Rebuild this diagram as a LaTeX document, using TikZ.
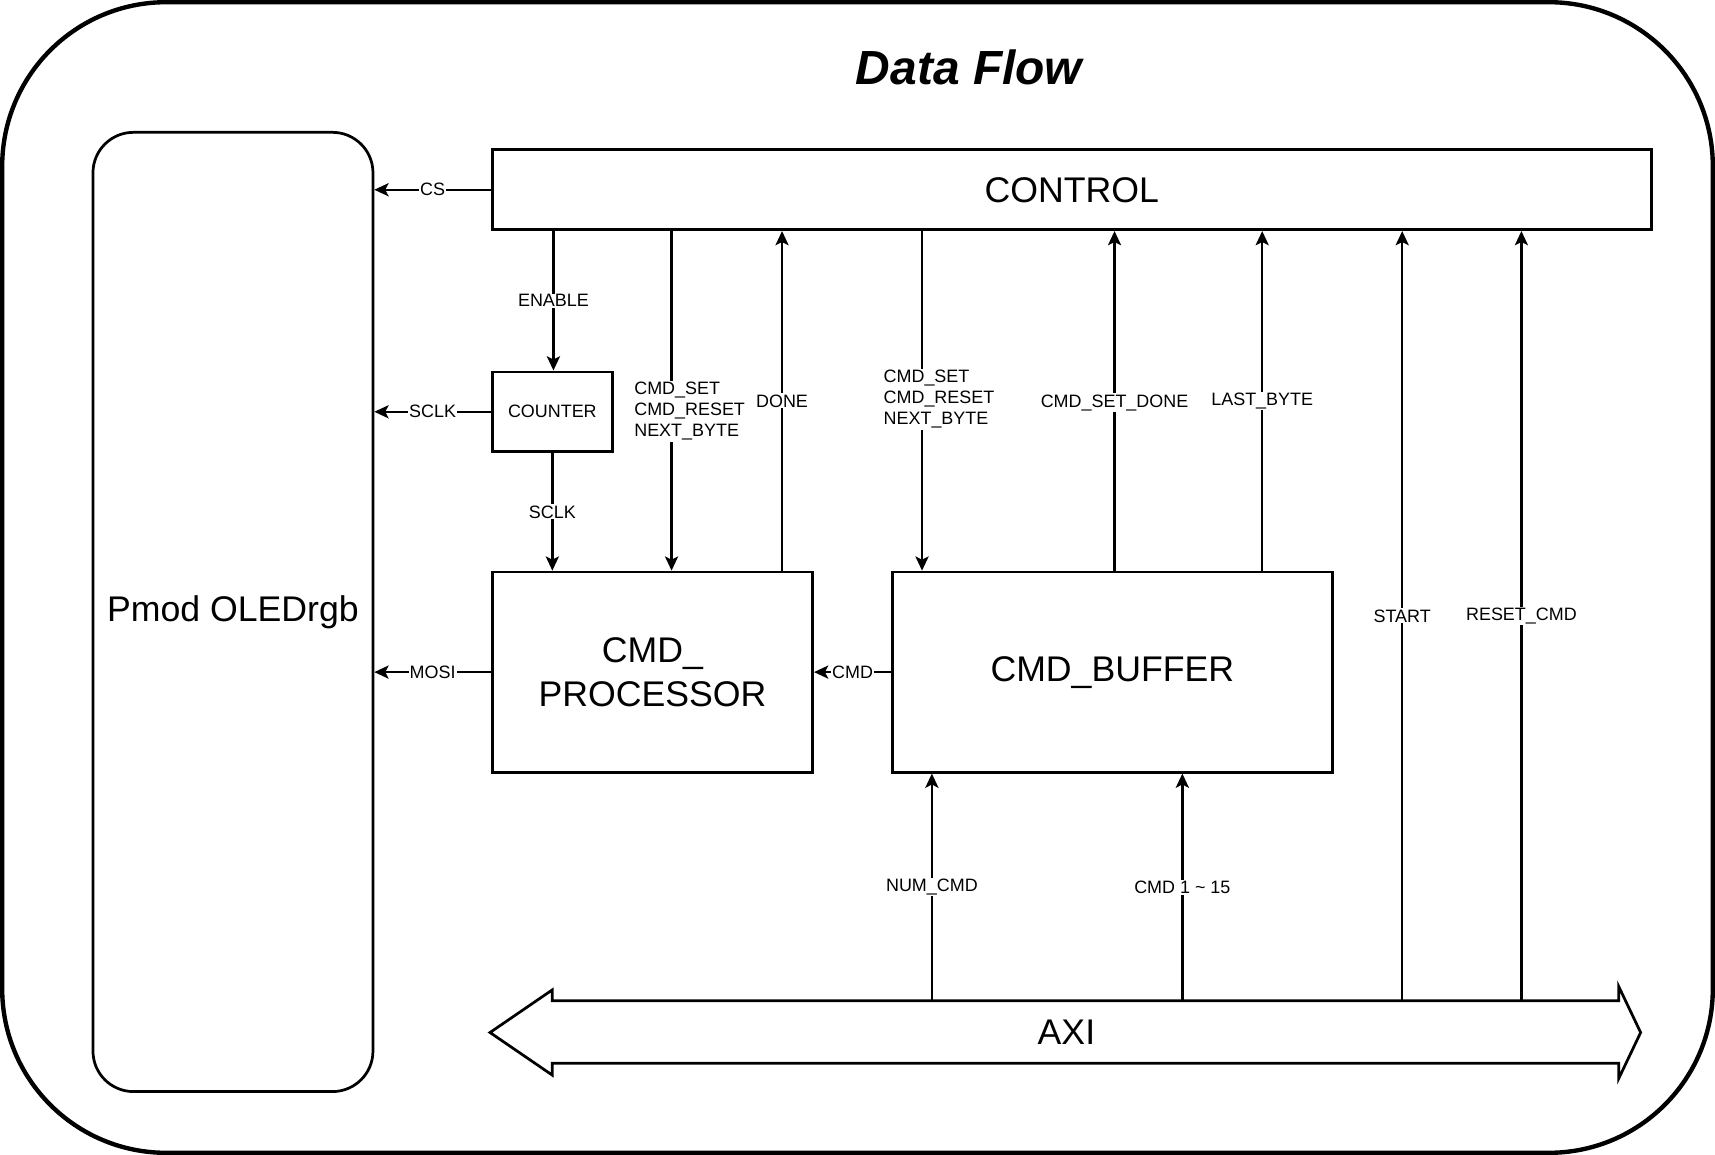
\documentclass[tikz,border=0pt]{standalone}
\usepackage{fontspec}
\setmainfont{Liberation Sans}
\usetikzlibrary{arrows.meta}

\begin{document}
\begin{tikzpicture}[x=1pt,y=-1pt,
  blk/.style={draw,line width=2.5pt,inner sep=0pt,align=center,font=\fontsize{32.6}{40}\selectfont},
  sig/.style={line width=2.1pt,-{Stealth[length=13pt,width=12pt,inset=3pt]}},
  lbl/.style={fill=white,inner sep=1pt,font=\fontsize{16.4}{19.5}\selectfont}]
\useasboundingbox (0,0) rectangle (1568,1056);
\draw[line width=4pt,rounded corners=150pt] (2,2) rectangle (1566,1054);
\node[font=\fontsize{43.8}{50}\selectfont\bfseries\itshape] (title) at (886,62) {Data Flow};

% blocks
\node[blk,rounded corners=37pt,minimum width=256pt,minimum height=877pt] (oled) at (213,559.5) {Pmod OLEDrgb};
\node[blk,minimum width=1060pt,minimum height=73pt] (ctrl) at (980,173.5) {CONTROL};
\node[blk,font=\fontsize{16.4}{19.5}\selectfont,minimum width=110pt,minimum height=73pt] (cnt) at (505,376.5) {COUNTER};
\node[blk,minimum width=293pt,minimum height=183pt] (proc) at (596.5,614.5) {CMD\_\\PROCESSOR};
\node[blk,minimum width=402pt,minimum height=183pt] (buf) at (1017,614.5) {CMD\_BUFFER};

% AXI bus
\draw[line width=2.5pt] (448,944) -- (505,905) -- (505,915) -- (1480,915) -- (1480,902) -- (1500,944)
  -- (1480,986) -- (1480,972) -- (505,972) -- (505,983) -- cycle;
\node[font=\fontsize{32.6}{40}\selectfont] (axi) at (975,944) {AXI};
\coordinate (axitop) at (0,915);

% signal columns
\coordinate (xen) at (506,0);
\coordinate (xcp) at (614,0);
\coordinate (xdn) at (715,0);
\coordinate (xcb) at (843,0);
\coordinate (xnc) at (852,0);
\coordinate (xsd) at (1019,0);
\coordinate (xcm) at (1081,0);
\coordinate (xlb) at (1154,0);
\coordinate (xst) at (1282,0);
\coordinate (xrc) at (1391,0);

% to the display
\draw[sig] (ctrl.west) -- node[lbl] {CS} (oled.east |- ctrl.west);
\draw[sig] (cnt.west) -- node[lbl] {SCLK} (oled.east |- cnt.west);
\draw[sig] (proc.west) -- node[lbl] {MOSI} (oled.east |- proc.west);
\draw[sig] (buf.west) -- node[lbl] {CMD} (proc.east);

% control paths
\draw[sig] (ctrl.south -| xen) -- node[lbl] {ENABLE} (cnt.north -| xen);
\draw[sig] (cnt.south) -- node[lbl] {SCLK} (proc.north -| cnt.south);
\draw[sig] (ctrl.south -| xcp) -- node[lbl,align=left,pos=0.53,xshift=16.5pt] {CMD\_SET\\CMD\_RESET\\NEXT\_BYTE} (proc.north -| xcp);
\draw[sig] (proc.north -| xdn) -- node[lbl] {DONE} (ctrl.south -| xdn);
\draw[sig] (ctrl.south -| xcb) -- node[lbl,align=left,pos=0.495,xshift=15.5pt] {CMD\_SET\\CMD\_RESET\\NEXT\_BYTE} (buf.north -| xcb);
\draw[sig] (buf.north -| xsd) -- node[lbl,pos=0.495] {CMD\_SET\_DONE} (ctrl.south -| xsd);
\draw[sig] (buf.north -| xlb) -- node[lbl] {LAST\_BYTE} (ctrl.south -| xlb);

% from AXI
\draw[sig] (axitop -| xst) -- node[lbl] {START} (ctrl.south -| xst);
\draw[sig] (axitop -| xrc) -- node[lbl] {RESET\_CMD} (ctrl.south -| xrc);
\draw[sig] (axitop -| xnc) -- node[lbl] {NUM\_CMD} (buf.south -| xnc);
\draw[sig] (axitop -| xcm) -- node[lbl] {CMD 1 \textasciitilde{} 15} (buf.south -| xcm);
\end{tikzpicture}
\end{document}
